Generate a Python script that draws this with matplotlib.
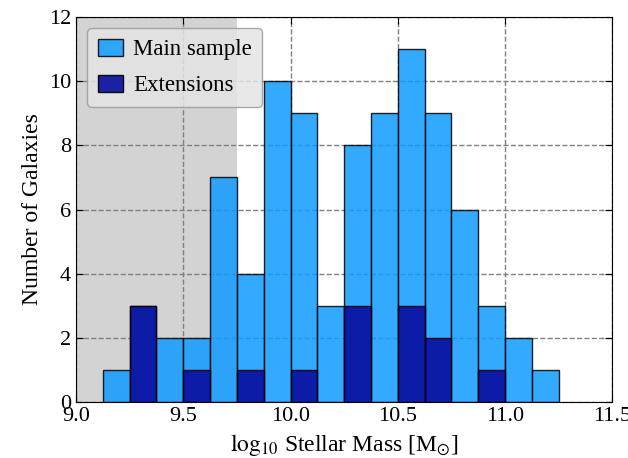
import numpy as np
import matplotlib
matplotlib.use('Agg')
from matplotlib import pyplot as plt

# bin left edges (log10 stellar mass) and counts
bin_left = [9.125, 9.25, 9.375, 9.5, 9.625, 9.75, 9.875, 10.0, 10.125,
            10.25, 10.375, 10.5, 10.625, 10.75, 10.875, 11.0, 11.125]
main_counts = [1, 3, 2, 2, 7, 4, 10, 9, 3, 8, 9, 11, 9, 6, 3, 2, 1]
ext_counts = [0, 3, 0, 1, 0, 1, 0, 1, 0, 3, 0, 3, 2, 0, 1, 0, 0]
bin_width = 0.125
shade_limit = 9.75

plt.rcParams['font.family'] = ['Liberation Serif', 'DejaVu Serif']
plt.rcParams['mathtext.fontset'] = 'stix'

fig = plt.figure(figsize=(6.28, 4.58), dpi=100)
ax = fig.add_axes([0.121, 0.122, 0.854, 0.841])

ax.axvspan(9.0, shade_limit, color='#d3d3d3', zorder=0, lw=0)
ax.grid(True, ls='--', color='gray', lw=1, zorder=1)
ax.set_axisbelow(True)

ax.bar(bin_left, main_counts, width=bin_width, align='edge', color='#0f9bff',
       alpha=0.85, edgecolor='black', lw=1, zorder=2, label='Main sample')
ext_left = [x for x, c in zip(bin_left, ext_counts) if c > 0]
ext_vals = [c for c in ext_counts if c > 0]
ax.bar(ext_left, ext_vals, width=bin_width, align='edge', color='#0a10a0',
       alpha=0.92, edgecolor='black', lw=1, zorder=3, label='Extensions')

ax.set_xlim(9.0, 11.5)
ax.set_ylim(0, 12)
ax.set_xticks([9.0, 9.5, 10.0, 10.5, 11.0, 11.5])
ax.set_yticks(range(0, 13, 2))
ax.tick_params(direction='in', top=True, right=True, labelsize=16, length=5)
ax.set_xlabel(r'$\mathrm{log}_{10}$ Stellar Mass [M$_{\odot}$]', fontsize=17)
ax.set_ylabel('Number of Galaxies', fontsize=17)

leg = ax.legend(loc='upper left', fontsize=16.5, fancybox=True, framealpha=0.84,
                facecolor='#e4e4e4', edgecolor='#999999', borderpad=0.45,
                handlelength=1.1, handleheight=0.8, handletextpad=0.45,
                labelspacing=0.62, bbox_to_anchor=(0.0, 1.0))

fig.savefig('out.png', dpi=100)
